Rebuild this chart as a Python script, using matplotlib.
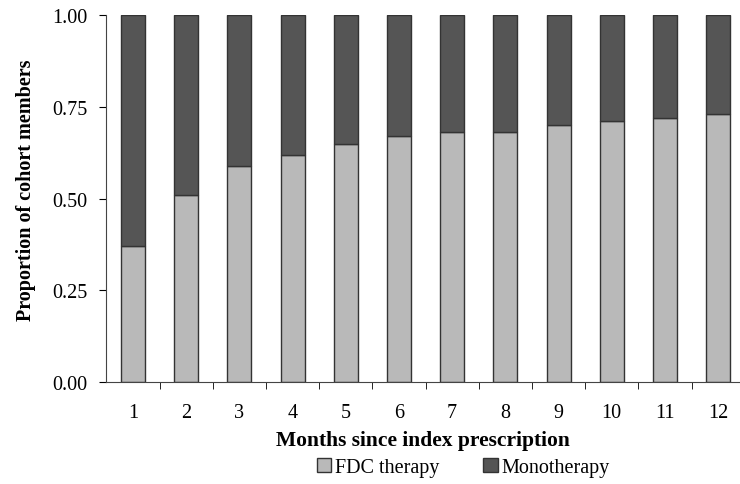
import numpy as np
import matplotlib.pyplot as plt
from matplotlib.patches import Patch

plt.rcParams['font.family'] = ['Liberation Serif', 'DejaVu Serif']

# Proportion of cohort members by month since index prescription
months = [1, 2, 3, 4, 5, 6, 7, 8, 9, 10, 11, 12]
fdc = [0.37, 0.51, 0.59, 0.62, 0.65, 0.67, 0.68, 0.68, 0.70, 0.71, 0.72, 0.73]
mono = [1 - v for v in fdc]
yticks = [0.00, 0.25, 0.50, 0.75, 1.00]

fig = plt.figure(figsize=(7.4, 4.85), dpi=100)
ax = fig.add_axes([0.143, 0.21, 0.857, 0.757])

x = np.array(months)
ax.bar(x, fdc, width=0.45, color='#b9b9b9', edgecolor='#333333', linewidth=1.0)
ax.bar(x, mono, width=0.45, bottom=fdc, color='#555555', edgecolor='#333333', linewidth=1.0)

ax.set_xlim(0.49, 12.41)
ax.set_ylim(0, 1.0)
ax.set_yticks(yticks)
ax.set_yticklabels([f"{v:.2f}" for v in yticks], fontsize=14.5)
ax.set_xticks(x)
ax.set_xticklabels([str(m) for m in months], fontsize=14.5)
ax.tick_params(axis='x', length=0, pad=15)
ax.set_xticks(x[:-1] + 0.5, minor=True)
ax.tick_params(axis='x', which='minor', length=5, direction='out')
ax.tick_params(axis='y', length=5, direction='out', pad=8)

for s in ['top', 'right']:
    ax.spines[s].set_visible(False)
ax.spines['left'].set_color('#444444')
ax.spines['bottom'].set_color('#444444')

ax.set_xlabel("Months since index prescription", fontsize=15.5, fontweight='bold', labelpad=6)
ax.set_ylabel("Proportion of cohort members", fontsize=14.5, fontweight='bold')
ax.yaxis.set_label_coords(-0.11, 0.525)

handles = [Patch(facecolor='#b9b9b9', edgecolor='#333333', label='FDC therapy'),
           Patch(facecolor='#555555', edgecolor='#333333', label='Monotherapy')]
fig.legend(handles=handles, loc='center', bbox_to_anchor=(0.626, 0.034), ncol=2,
           frameon=False, fontsize=14.5, handlelength=0.7, handleheight=0.7,
           handletextpad=0.2, columnspacing=2.2)

fig.savefig('out.png', dpi=100)
